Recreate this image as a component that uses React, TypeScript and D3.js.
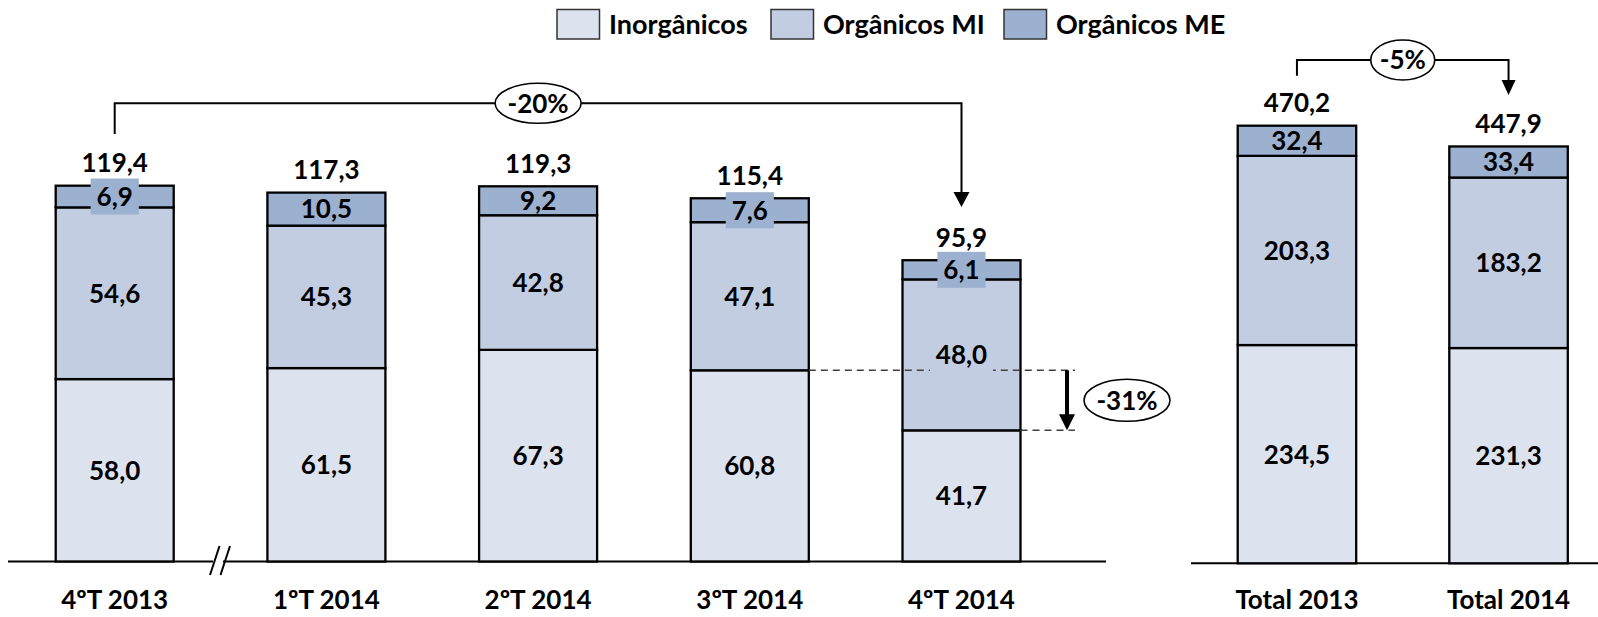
import * as d3 from 'd3';

// quarterly values (R$ mi)
const quarters = ['4ºT 2013', '1ºT 2014', '2ºT 2014', '3ºT 2014', '4ºT 2014'];
const qInorganicos = [58.0, 61.5, 67.3, 60.8, 41.7];
const qOrganicosMI = [54.6, 45.3, 42.8, 47.1, 48.0];
const qOrganicosME = [6.9, 10.5, 9.2, 7.6, 6.1];
const qTotals = [119.4, 117.3, 119.3, 115.4, 95.9];

// annual values
const years = ['Total 2013', 'Total 2014'];
const yInorganicos = [234.5, 231.3];
const yOrganicosMI = [203.3, 183.2];
const yOrganicosME = [32.4, 33.4];
const yTotals = [470.2, 447.9];

const legendLabels = ['Inorgânicos', 'Orgânicos MI', 'Orgânicos ME'];
const varQuarter = '-20%';
const varInorg = '-31%';
const varYear = '-5%';

const KEYS = ['inorg', 'mi', 'me'];
const COLORS: Record<string, string> = { inorg: '#DDE3EE', mi: '#C2CDE1', me: '#9CB0CF' };
const FONT = "Lato, 'Open Sans', sans-serif";
const FS = 26;
const BOX_H = 36;

const fmt = d3.formatLocale({ decimal: ',', thousands: '.', grouping: [3], currency: ['R$', ''] }).format('.1f');

// rough width of bold text, for label backgrounds
const textW = (s: string, size = FS) =>
  s.split('').reduce((a, c) => a + (/[0-9]/.test(c) ? 0.58 : c === ',' ? 0.23 : 0.55), 0) * size;

type Row = { cat: string; inorg: number; mi: number; me: number };
const rowsOf = (cats: string[], a: number[], b: number[], c: number[]): Row[] =>
  cats.map((cat, i) => ({ cat, inorg: a[i], mi: b[i], me: c[i] }));

function Bars({ rows, totals, x, y }: {
  rows: Row[]; totals: number[]; x: d3.ScaleBand<string>; y: d3.ScaleLinear<number, number>;
}) {
  const series = d3.stack<Row>().keys(KEYS)(rows);
  return (
    <g>
      {series.map(s => (
        <g key={s.key}>
          {s.map((d, i) => (
            <rect key={i} x={x(rows[i].cat)} width={x.bandwidth()} y={y(d[1])} height={y(d[0]) - y(d[1])}
              fill={COLORS[s.key]} stroke="#000" strokeWidth={2.3} />
          ))}
        </g>
      ))}
      {rows.map((r, i) => (
        <text key={'t' + i} x={x(r.cat)! + x.bandwidth() / 2} y={y(d3.sum(KEYS, k => (r as any)[k])) - 23}
          dy="0.36em" textAnchor="middle" fontFamily={FONT} fontWeight={700} fontSize={FS}>{fmt(totals[i])}</text>
      ))}
      {rows.map((r, i) => (
        <text key={'c' + i} x={x(r.cat)! + x.bandwidth() / 2} y={609}
          textAnchor="middle" fontFamily={FONT} fontWeight={700} fontSize={FS}>{r.cat}</text>
      ))}
    </g>
  );
}

// segment values; a background box only where the label is taller than its segment
function SegLabels({ rows, x, y, boxed }: { rows: Row[]; x: d3.ScaleBand<string>; y: d3.ScaleLinear<number, number>; boxed: boolean }) {
  const series = d3.stack<Row>().keys(KEYS)(rows);
  return (
    <g>
      {series.map(s => s.map((d, i) => {
        const cx = x(rows[i].cat)! + x.bandwidth() / 2;
        const cy = (y(d[0]) + y(d[1])) / 2;
        const h = y(d[0]) - y(d[1]);
        const v = (rows[i] as any)[s.key];
        const label = fmt(v);
        const bw = textW(label) + 12;
        const showBox = boxed && (h < 26 || h > 100);
        return (
          <g key={s.key + i}>
            {showBox && <rect x={cx - bw / 2} y={cy - BOX_H / 2} width={bw} height={BOX_H} fill={COLORS[s.key]} />}
            <text x={cx} y={cy} dy="0.36em" textAnchor="middle" fontFamily={FONT} fontWeight={700} fontSize={FS}>{label}</text>
          </g>
        );
      }))}
    </g>
  );
}

function Oval({ cx, cy, rx, ry, label }: { cx: number; cy: number; rx: number; ry: number; label: string }) {
  return (
    <g>
      <ellipse cx={cx} cy={cy} rx={rx} ry={ry} fill="#fff" stroke="#000" strokeWidth={1.6} />
      <text x={cx} y={cy} dy="0.36em" textAnchor="middle" fontFamily={FONT} fontWeight={700} fontSize={FS}>{label}</text>
    </g>
  );
}

function Arrowhead({ x, tip, w, h }: { x: number; tip: number; w: number; h: number }) {
  return <path d={`M${x - w / 2},${tip - h}L${x + w / 2},${tip - h}L${x},${tip}Z`} fill="#000" />;
}

export default function App() {
  const qRows = rowsOf(quarters, qInorganicos, qOrganicosMI, qOrganicosME);
  const aRows = rowsOf(years, yInorganicos, yOrganicosMI, yOrganicosME);

  const xL = d3.scaleBand().domain(quarters).range([55.7, 1020.5]).paddingInner(0.4426).paddingOuter(0);
  const yL = d3.scaleLinear().domain([0, 119.4]).range([561.5, 186]);
  const xR = d3.scaleBand().domain(years).range([1237.7, 1567.8]).paddingInner(0.44).paddingOuter(0);
  const yR = d3.scaleLinear().domain([0, 470.2]).range([563.3, 125.7]);

  const cL = (c: string) => xL(c)! + xL.bandwidth() / 2;
  const cR = (c: string) => xR(c)! + xR.bandwidth() / 2;

  // -31% marker: inorganic levels 3T14 vs 4T14
  const yA = yL(qInorganicos[3]);
  const yB = yL(qInorganicos[4]);
  const dashEnd = 1075;

  const legendBox = [557, 771, 1004];
  const legendText = [609, 823, 1056];

  return (
    <div style={{ position: 'absolute', left: 0, top: 0, background: '#fff' }}>
      <svg width={1598} height={617} style={{ display: 'block' }}>
        {/* legend */}
        {legendLabels.map((l, i) => (
          <g key={l}>
            <rect x={legendBox[i]} y={9.5} width={42.5} height={29.5} fill={COLORS[KEYS[i]]} stroke="#333" strokeWidth={1.5} />
            <text x={legendText[i]} y={24} dy="0.36em" fontFamily={FONT} fontWeight={700} fontSize={27}>{l}</text>
          </g>
        ))}

        {/* baselines */}
        <line x1={8} x2={1106} y1={561.5} y2={561.5} stroke="#000" strokeWidth={2} />
        <line x1={1191} x2={1598} y1={563.3} y2={563.3} stroke="#000" strokeWidth={2} />
        <rect x={213} y={555} width={10} height={13} fill="#fff" />
        <line x1={210} y1={575} x2={219.5} y2={546} stroke="#000" strokeWidth={2} />
        <line x1={220.5} y1={575} x2={230} y2={546} stroke="#000" strokeWidth={2} />

        <Bars rows={qRows} totals={qTotals} x={xL} y={yL} />
        <Bars rows={aRows} totals={yTotals} x={xR} y={yR} />

        {/* dashed guides */}
        <line x1={xL(quarters[3])! + xL.bandwidth()} x2={dashEnd} y1={yA} y2={yA} stroke="#404040" strokeWidth={1.5} strokeDasharray="7,5" />
        <line x1={xL(quarters[4])! + xL.bandwidth()} x2={dashEnd} y1={yB} y2={yB} stroke="#404040" strokeWidth={1.5} strokeDasharray="7,5" />

        <SegLabels rows={qRows} x={xL} y={yL} boxed />
        <SegLabels rows={aRows} x={xR} y={yR} boxed={false} />

        {/* -31% arrow */}
        <line x1={1067} x2={1067} y1={yA} y2={yB - 14} stroke="#000" strokeWidth={4} />
        <Arrowhead x={1067} tip={yB} w={16} h={16} />
        <Oval cx={1127} cy={(yA + yB) / 2} rx={43} ry={21} label={varInorg} />

        {/* -20% bracket */}
        <path d={`M${cL(quarters[0])},134V103.3H${cL(quarters[4])}V193`} fill="none" stroke="#000" strokeWidth={2} />
        <Arrowhead x={cL(quarters[4])} tip={207} w={16} h={15} />
        <Oval cx={cL(quarters[2])} cy={103.3} rx={43} ry={20} label={varQuarter} />

        {/* -5% bracket */}
        <path d={`M${cR(years[0])},75.7V60H${cR(years[1])}V81`} fill="none" stroke="#000" strokeWidth={2} />
        <Arrowhead x={cR(years[1])} tip={95} w={14} h={15} />
        <Oval cx={(cR(years[0]) + cR(years[1])) / 2} cy={60} rx={32} ry={20} label={varYear} />
      </svg>
    </div>
  );
}
